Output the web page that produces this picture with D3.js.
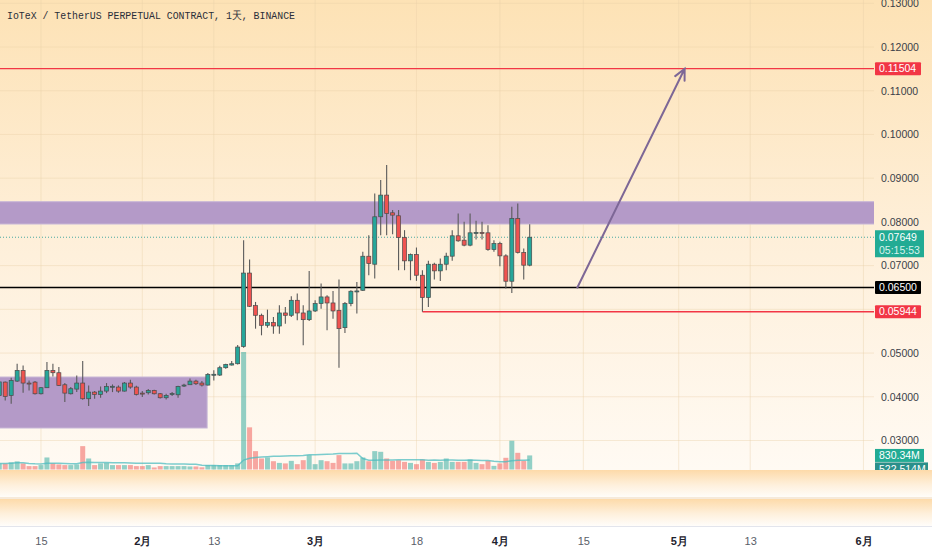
<!DOCTYPE html>
<html><head><meta charset="utf-8">
<script src="https://cdn.jsdelivr.net/npm/d3@7"></script>
<style>html,body{margin:0;padding:0;background:#fff;overflow:hidden}svg{display:block}</style>
</head><body>
<svg id="c" width="932" height="550"></svg>
<script>
// ---------------- DATA ----------------
const titleText = "IoTeX / TetherUS PERPETUAL CONTRACT, 1天, BINANCE";
const startDate = "2024-01-08"; // first daily candle
const openP = [
0.0403,0.04336,0.04031,0.04359,0.04604,0.04314,0.04336,0.04069,0.04207,0.04604,0.0455,0.04275,0.04069,0.04176,0.04314,0.03955,0.04107,0.04054,0.0413,0.04237,0.04222,0.0413,0.04314,0.04222,
0.04084,0.04092,0.04146,0.04069,0.03978,0.04069,0.04046,0.04252,0.04275,0.04359,0.04314,0.04268,0.04512,0.04497,0.04665,0.04726,0.04756,0.0515,0.0683,0.06085,0.05864,0.05635,0.05696,0.05619,0.05917,0.05864,0.06207,0.05917,0.05764,
0.05963,0.06131,0.06284,0.06146,0.05978,0.05581,0.06131,0.06414,0.06436,0.07215,0.07032,0.08117,0.08613,0.08208,0.0814,0.07643,0.07109,0.07254,0.0678,0.06269,0.07032,0.0688,0.07032,0.07216,0.07682,0.07582,0.07468,0.0775,0.07758,0.0775,0.07368,
0.07506,0.07223,0.06643,0.08079,0.073,0.0701];
const highP = [
0.0436,0.0435,0.04436,0.04756,0.04718,0.04375,0.04359,0.04222,0.04795,0.04756,0.0468,0.04314,0.04222,0.04489,0.04818,0.0426,0.0413,0.04237,0.04314,0.04283,0.0426,0.04336,0.0439,0.04252,
0.0413,0.04176,0.04161,0.04084,0.04069,0.04107,0.04252,0.04298,0.0442,0.0439,0.04359,0.04543,0.04604,0.04711,0.04756,0.04818,0.05184,0.0758,0.07139,0.06169,0.05902,0.05994,0.05826,0.06093,0.06055,0.06299,0.0636,0.06093,0.06879,
0.06207,0.06589,0.06322,0.06421,0.06681,0.06169,0.06436,0.06627,0.07315,0.07696,0.08651,0.08957,0.093,0.0827,0.0827,0.07811,0.07277,0.07414,0.06895,0.07109,0.07063,0.07162,0.07292,0.07811,0.08193,0.08002,0.08193,0.08025,0.08002,0.07926,0.07582,
0.07544,0.07262,0.08346,0.08422,0.07391,0.07949];
const lowP = [
0.0398,0.03916,0.0384,0.04336,0.04092,0.04146,0.04054,0.04054,0.042,0.04466,0.04245,0.03878,0.04054,0.04107,0.03932,0.03787,0.03955,0.03978,0.04084,0.04107,0.04092,0.04123,0.04184,0.04031,
0.03993,0.04054,0.04054,0.03962,0.03939,0.04016,0.03978,0.04222,0.04268,0.04268,0.04237,0.0426,0.04375,0.04474,0.04642,0.04718,0.04741,0.0512,0.06055,0.05558,0.05406,0.05581,0.05444,0.05444,0.05673,0.05826,0.05749,0.05176,0.05734,
0.0594,0.06016,0.0552,0.05787,0.04665,0.05459,0.0607,0.05902,0.06421,0.0678,0.06704,0.07697,0.07697,0.0772,0.06895,0.06895,0.06666,0.06651,0.05944,0.06055,0.06681,0.06651,0.06895,0.07109,0.07544,0.07445,0.07445,0.07597,0.07597,0.07338,0.07315,
0.06987,0.06475,0.06376,0.07277,0.06681,0.06987];
const closeP = [
0.0434,0.04008,0.04375,0.04604,0.04314,0.04307,0.04069,0.04207,0.04604,0.0455,0.0426,0.04084,0.04184,0.04314,0.03955,0.04107,0.04054,0.0413,0.04237,0.0424,0.0413,0.04314,0.04222,0.04054,
0.0408,0.04146,0.04069,0.03978,0.04031,0.04072,0.04237,0.04268,0.04359,0.04298,0.04268,0.04512,0.04515,0.04665,0.04741,0.04756,0.05138,0.0683,0.0607,0.05864,0.05635,0.05696,0.05619,0.05917,0.05864,0.06207,0.05917,0.05764,0.05963,
0.06131,0.06284,0.06146,0.05963,0.05558,0.06131,0.06414,0.06421,0.07215,0.07047,0.08117,0.08613,0.08193,0.08155,0.07643,0.07109,0.07254,0.0678,0.06269,0.07032,0.0688,0.07032,0.07216,0.07682,0.07567,0.07468,0.0775,0.07758,0.0775,0.07368,0.07506,
0.07223,0.06643,0.08079,0.073,0.0701,0.07649];
const volumeM = [
350,350,420,480,360,200,200,260,710,360,300,260,260,300,1380,650,260,360,390,260,260,260,260,200,
200,260,120,200,200,200,200,200,180,180,130,260,260,260,260,260,360,6940,2490,1085,650,710,490,390,360,510,315,550,850,
315,550,490,390,850,360,360,490,710,490,1085,1045,650,510,550,450,390,315,590,450,390,450,650,450,450,450,590,390,315,510,215,
360,690,1700,985,510,830.34];
const volMAPeriod = 20;

const priceTicks = [0.03,0.04,0.05,0.06,0.07,0.08,0.09,0.10,0.11,0.12,0.13];
const priceTickHidden = [0.06];
const dateTicks = ["2024-01-15","2024-02-01","2024-02-13","2024-03-01","2024-03-18","2024-04-01","2024-04-15","2024-05-01","2024-05-13","2024-06-01"];
const dateTickLabels = ["15","2月","13","3月","18","4月","15","5月","13","6月"];

const zoneUpper = {p1:0.07952, p2:0.08462, from:"2024-01-01T00:00", to:"2024-07-01T00:00"};
const zoneLower = {p1:0.03286, p2:0.04452, from:"2024-01-01T00:00", to:"2024-02-11T21:00"};
const levelSupport = 0.065;
const levelTarget = 0.11504;
const levelLow = {p:0.05944, from:"2024-03-19T00:00"};
const arrowFrom = {t:"2024-04-14T00:00", p:0.065};
const arrowTo = {t:"2024-05-02T00:00", p:0.11504};
const currentPrice = 0.07649;
const countdown = "05:15:53";
const volumeLabel = "830.34M";
const volumeMALabel = "522.514M";

// ---------------- LAYOUT ----------------
const W = 932, plotR = 874, mainB = 470;
const svg = d3.select("#c");
const defs = svg.append("defs");
function grad(id, stops){
  const g = defs.append("linearGradient").attr("id",id).attr("x1",0).attr("y1",0).attr("x2",0).attr("y2",1);
  stops.forEach(s=>g.append("stop").attr("offset",s[0]).attr("stop-color",s[1]));
}
grad("bg", [[0,"#fde2b5"],[0.5,"#feefd9"],[1,"#fffaf3"]]);
grad("pane", [[0,"#fddaa9"],[0.55,"#fef0dc"],[1,"#fffdfa"]]);
defs.append("clipPath").attr("id","plot").append("rect").attr("x",0).attr("y",0).attr("width",plotR).attr("height",mainB);

const pT = d3.utcParse("%Y-%m-%dT%H:%M"), pD = d3.utcParse("%Y-%m-%d");
const t0 = pD(startDate);
const dates = d3.utcDay.range(t0, d3.utcDay.offset(t0, openP.length));
const data = dates.map((d,i)=>({d, o:openP[i], h:highP[i], l:lowP[i], c:closeP[i], v:volumeM[i]}));

const x = d3.scaleUtc().domain([pT("2024-01-08T02:58"), pT("2024-06-02T18:29")]).range([0, plotR]);
const y = d3.scaleLinear().domain([0.03, 0.13]).range([440.5, 3.3]);
const yv = d3.scaleLinear().domain([0, 6940]).range([469.5, 352]);

const UP = "#26a69a", DN = "#ef5350";

svg.append("rect").attr("width",W).attr("height",mainB).attr("fill","url(#bg)");

const plot = svg.append("g").attr("clip-path","url(#plot)");
// grid
plot.append("g").selectAll("line").data(dateTicks.map(pD)).join("line")
  .attr("x1",d=>x(d)).attr("x2",d=>x(d)).attr("y1",0).attr("y2",mainB)
  .attr("stroke","#e9cfa8").attr("stroke-opacity",0.4).attr("stroke-width",1);
plot.append("g").selectAll("line").data(priceTicks).join("line")
  .attr("x1",0).attr("x2",plotR).attr("y1",d=>y(d)).attr("y2",d=>y(d))
  .attr("stroke","#e9cfa8").attr("stroke-opacity",0.4).attr("stroke-width",1);

// zones
[zoneUpper, zoneLower].forEach(z=>{
  plot.append("rect").attr("x",x(pT(z.from))).attr("y",y(z.p2))
    .attr("width",x(pT(z.to))-x(pT(z.from))).attr("height",y(z.p1)-y(z.p2))
    .attr("fill","#b49ac8").attr("stroke","#c7b6d6").attr("stroke-width",1);
});

// volume
plot.append("g").selectAll("rect").data(data).join("rect")
  .attr("x",d=>x(d.d)-2.5).attr("width",5)
  .attr("y",d=>yv(d.v)).attr("height",d=>yv(0)-yv(d.v))
  .attr("fill",d=>d.c>=d.o?UP:DN).attr("fill-opacity",0.5);
const ma = data.map((d,i)=>({d:d.d, v:d3.mean(volumeM.slice(Math.max(0,i-volMAPeriod+1), i+1))}));
plot.append("path").datum(ma)
  .attr("d", d3.line().x(d=>x(d.d)).y(d=>yv(d.v)))
  .attr("fill","none").attr("stroke","#4fbcc0").attr("stroke-opacity",0.75).attr("stroke-width",1.5);

// level lines
plot.append("line").attr("x1",0).attr("x2",plotR).attr("y1",y(currentPrice)).attr("y2",y(currentPrice))
  .attr("stroke","#4aa9a0").attr("stroke-width",1).attr("stroke-dasharray","1,2");
plot.append("line").attr("x1",0).attr("x2",plotR).attr("y1",y(levelTarget)).attr("y2",y(levelTarget))
  .attr("stroke","#f23645").attr("stroke-width",1.2);
plot.append("line").attr("x1",0).attr("x2",plotR).attr("y1",y(levelSupport)).attr("y2",y(levelSupport))
  .attr("stroke","#000").attr("stroke-width",1.6);
plot.append("line").attr("x1",x(pT(levelLow.from))).attr("x2",plotR).attr("y1",y(levelLow.p)).attr("y2",y(levelLow.p))
  .attr("stroke","#f23645").attr("stroke-width",1.5);

// candles
const cg = plot.append("g");
cg.selectAll("line").data(data).join("line")
  .attr("x1",d=>x(d.d)).attr("x2",d=>x(d.d)).attr("y1",d=>y(d.h)).attr("y2",d=>y(d.l))
  .attr("stroke","#5a5a5a").attr("stroke-width",1.1);
cg.selectAll("rect").data(data).join("rect")
  .attr("x",d=>x(d.d)-2).attr("width",4)
  .attr("y",d=>y(Math.max(d.o,d.c)))
  .attr("height",d=>Math.max(1,Math.abs(y(d.o)-y(d.c))))
  .attr("fill",d=>d.c>=d.o?UP:DN).attr("stroke","#4a4a4a").attr("stroke-width",0.7);

// arrow
const ax1=x(pT(arrowFrom.t)), ay1=y(arrowFrom.p), ax2=x(pT(arrowTo.t)), ay2=y(arrowTo.p);
const ang = Math.atan2(ay2-ay1, ax2-ax1), hl=12, ha=0.45;
plot.append("path")
  .attr("d",`M${ax1},${ay1}L${ax2},${ay2}M${ax2-hl*Math.cos(ang-ha)},${ay2-hl*Math.sin(ang-ha)}L${ax2},${ay2}L${ax2-hl*Math.cos(ang+ha)},${ay2-hl*Math.sin(ang+ha)}`)
  .attr("fill","none").attr("stroke","#7d6796").attr("stroke-width",2).attr("stroke-linecap","round");

// title
svg.append("text").attr("x",7).attr("y",19).text(titleText)
  .attr("font-family","'Liberation Mono','DejaVu Sans Mono',monospace").attr("font-size",11)
  .attr("textLength",288).attr("lengthAdjust","spacingAndGlyphs").attr("fill","#2a2e39");

// price axis
const FONT = "'Liberation Sans',Arial,sans-serif";
const yAxis = svg.append("g").attr("transform",`translate(${plotR},0)`)
  .call(d3.axisRight(y).tickValues(priceTicks.filter(t=>!priceTickHidden.includes(t))).tickFormat(d3.format(".5f")).tickSize(0).tickPadding(7));
yAxis.select(".domain").remove();
yAxis.selectAll("text").attr("font-family",FONT).attr("font-size",10.5).attr("fill","#3a3e48");

function tag(p, txt, fill, w){
  const cy = y(p);
  svg.append("rect").attr("x",plotR+1).attr("y",cy-6.5).attr("width",w).attr("height",13).attr("rx",1).attr("fill",fill);
  svg.append("text").attr("x",plotR+5).attr("y",cy).attr("dy","0.35em").text(txt)
    .attr("font-family",FONT).attr("font-size",10.5).attr("fill","#fff");
}
tag(levelTarget, d3.format(".5f")(levelTarget), "#f23645", 46);
tag(levelSupport, d3.format(".5f")(levelSupport), "#000", 46);
tag(levelLow.p, d3.format(".5f")(levelLow.p), "#f23645", 46);
{
  const cy = y(currentPrice);
  svg.append("rect").attr("x",plotR+1).attr("y",cy-7).attr("width",49).attr("height",27).attr("fill","#22ab94");
  svg.append("text").attr("x",plotR+5).attr("y",cy).attr("dy","0.35em").text(d3.format(".5f")(currentPrice))
    .attr("font-family",FONT).attr("font-size",10.5).attr("fill","#fff");
  svg.append("text").attr("x",plotR+5).attr("y",cy+13).attr("dy","0.35em").text(countdown)
    .attr("font-family",FONT).attr("font-size",10.5).attr("fill","#d7f2ec");
}
{
  const last = data[data.length-1];
  const cy = yv(last.v);
  svg.append("rect").attr("x",plotR+1).attr("y",cy-6.5).attr("width",49).attr("height",13).attr("fill","#22ab94");
  svg.append("text").attr("x",plotR+5).attr("y",cy).attr("dy","0.35em").text(volumeLabel)
    .attr("font-family",FONT).attr("font-size",10.5).attr("fill","#fff");
  svg.append("rect").attr("x",plotR+1).attr("y",cy+7).attr("width",53).attr("height",13).attr("fill","#2b8f8a");
  svg.append("text").attr("x",plotR+5).attr("y",cy+13.5).attr("dy","0.35em").text(volumeMALabel)
    .attr("font-family",FONT).attr("font-size",10.5).attr("fill","#fff");
}

// lower panes
svg.append("rect").attr("x",0).attr("y",mainB).attr("width",W).attr("height",27.5).attr("fill","url(#pane)");
svg.append("line").attr("x1",0).attr("x2",W).attr("y1",498).attr("y2",498).attr("stroke","#f3e3cf").attr("stroke-width",1.5);
svg.append("rect").attr("x",0).attr("y",499).attr("width",W).attr("height",27).attr("fill","url(#pane)");
svg.append("line").attr("x1",0).attr("x2",W).attr("y1",526.5).attr("y2",526.5).attr("stroke","#e3e5ec").attr("stroke-width",1);
svg.append("rect").attr("x",0).attr("y",527).attr("width",W).attr("height",23).attr("fill","#fff");

// time axis
const xAxis = svg.append("g").attr("transform","translate(0,527)")
  .call(d3.axisBottom(x).tickValues(dateTicks.map(pD)).tickFormat((d,i)=>dateTickLabels[i]).tickSize(0).tickPadding(10));
xAxis.select(".domain").remove();
xAxis.selectAll("text").attr("font-family",FONT).attr("font-size",11)
  .attr("fill",(d,i)=>dateTickLabels[i].includes("月")?"#1e222d":"#5a5e68")
  .attr("font-weight",(d,i)=>dateTickLabels[i].includes("月")?"bold":"normal");
</script>
</body></html>
